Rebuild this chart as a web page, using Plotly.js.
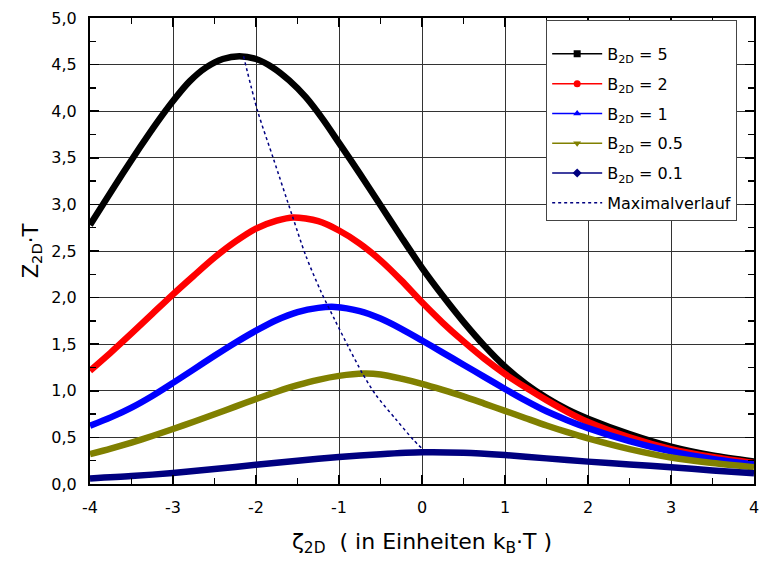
<!DOCTYPE html>
<html>
<head>
<meta charset="utf-8">
<script src="https://cdn.plot.ly/plotly-3.0.1.min.js"></script>
<style>html,body{margin:0;padding:0;background:#fff;}#chart{width:759px;height:562px;}</style>
</head>
<body>
<div id="chart"></div>
<script>
// ---- data ----
const x_B5 = [-4, -3.8, -3.6, -3.4, -3.2, -3, -2.8, -2.6, -2.4, -2.2, -2, -1.8, -1.6, -1.4, -1.2, -1, -0.75, -0.5, -0.25, 0, 0.25, 0.5, 0.75, 1, 1.25, 1.5, 1.75, 2, 2.5, 3, 3.5, 4];
const y_B5 = [2.78, 3.06, 3.34, 3.61, 3.87, 4.11, 4.32, 4.47, 4.56, 4.59, 4.56, 4.47, 4.33, 4.15, 3.92, 3.66, 3.33, 2.99, 2.65, 2.32, 2.02, 1.74, 1.485, 1.26, 1.075, 0.925, 0.80, 0.70, 0.535, 0.40, 0.305, 0.24];

const x_B2 = [-4, -3.75, -3.5, -3.25, -3, -2.75, -2.5, -2.25, -2, -1.75, -1.55, -1.25, -1, -0.75, -0.5, -0.25, 0, 0.25, 0.5, 0.75, 1, 1.25, 1.5, 1.75, 2, 2.5, 3, 3.5, 4];
const y_B2 = [1.215, 1.41, 1.615, 1.825, 2.035, 2.235, 2.43, 2.6, 2.74, 2.825, 2.86, 2.82, 2.72, 2.58, 2.40, 2.185, 1.95, 1.73, 1.53, 1.345, 1.18, 1.035, 0.90, 0.775, 0.665, 0.50, 0.375, 0.29, 0.225];

const x_B1 = [-4, -3.75, -3.5, -3.25, -3, -2.75, -2.5, -2.25, -2, -1.75, -1.5, -1.25, -1.05, -0.75, -0.5, -0.25, 0, 0.25, 0.5, 0.75, 1, 1.25, 1.5, 1.75, 2, 2.5, 3, 3.5, 4];
const y_B1 = [0.625, 0.715, 0.82, 0.945, 1.085, 1.23, 1.375, 1.515, 1.645, 1.76, 1.845, 1.89, 1.90, 1.855, 1.775, 1.665, 1.54, 1.41, 1.28, 1.15, 1.02, 0.895, 0.78, 0.685, 0.60, 0.46, 0.35, 0.27, 0.21];

const x_B05 = [-4, -3.75, -3.5, -3.25, -3, -2.75, -2.5, -2.25, -2, -1.75, -1.5, -1.25, -1, -0.7, -0.5, -0.25, 0, 0.25, 0.5, 0.75, 1, 1.25, 1.5, 1.75, 2, 2.5, 3, 3.5, 4];
const y_B05 = [0.32, 0.38, 0.445, 0.515, 0.59, 0.668, 0.748, 0.83, 0.912, 0.99, 1.06, 1.118, 1.16, 1.185, 1.175, 1.13, 1.075, 1.01, 0.94, 0.863, 0.785, 0.706, 0.628, 0.556, 0.49, 0.375, 0.285, 0.225, 0.18];

const x_B01 = [-4, -3.5, -3, -2.5, -2, -1.5, -1, -0.5, 0, 0.5, 1, 1.5, 2, 2.5, 3, 3.5, 4];
const y_B01 = [0.06, 0.085, 0.118, 0.16, 0.207, 0.25, 0.29, 0.32, 0.34, 0.335, 0.31, 0.275, 0.24, 0.21, 0.18, 0.145, 0.115];

const x_max = [-2.15, -1.98, -1.79, -1.56, -1.40, -1.22, -1.05, -0.88, -0.72, -0.56, -0.32, -0.10, 0.0];
const y_max = [4.59, 4.0, 3.49, 2.87, 2.45, 2.07, 1.76, 1.46, 1.19, 0.96, 0.70, 0.47, 0.38];

const seriesNames = ['B<sub>2D</sub> = 5', 'B<sub>2D</sub> = 2', 'B<sub>2D</sub> = 1', 'B<sub>2D</sub> = 0.5', 'B<sub>2D</sub> = 0.1', 'Maximalverlauf'];
const xTickVals = [-4, -3, -2, -1, 0, 1, 2, 3, 4];
const xTickText = ['-4', '-3', '-2', '-1', '0', '1', '2', '3', '4'];
const yTickVals = [0, 0.5, 1, 1.5, 2, 2.5, 3, 3.5, 4, 4.5, 5];
const yTickText = ['0,0', '0,5', '1,0', '1,5', '2,0', '2,5', '3,0', '3,5', '4,0', '4,5', '5,0'];

// ---- styles ----
const colors = ['#000000', '#ff0000', '#0000ff', '#808000', '#000080', '#000080'];
const symbols = ['square', 'circle', 'triangle-up', 'triangle-down', 'diamond'];
const xs = [x_B5, x_B2, x_B1, x_B05, x_B01];
const ys = [y_B5, y_B2, y_B1, y_B05, y_B01];

const traces = [];
for (let i = 0; i < 5; i++) {
  traces.push({
    x: xs[i], y: ys[i], type: 'scatter', mode: 'lines',
    line: {color: colors[i], width: 6.5, shape: 'spline', smoothing: 0.8},
    showlegend: false, hoverinfo: 'skip'
  });
}
traces.push({
  x: x_max, y: y_max, type: 'scatter', mode: 'lines',
  line: {color: colors[5], width: 1.5, dash: 'dot', shape: 'spline', smoothing: 0.8},
  showlegend: false, hoverinfo: 'skip'
});
// legend entries
for (let i = 0; i < 5; i++) {
  traces.push({
    x: [null], y: [null], type: 'scatter', mode: 'lines+markers', name: seriesNames[i],
    legendgroup: 'g' + i,
    line: {color: colors[i], width: 1.5},
    marker: {color: colors[i], symbol: symbols[i], size: 7}
  });
}
traces.push({
  x: [null], y: [null], type: 'scatter', mode: 'lines', name: seriesNames[5],
  legendgroup: 'g5',
  line: {color: colors[5], width: 1.5, dash: 'dot'}
});

const fam = 'DejaVu Sans, Arial, sans-serif';
const font = {family: fam, size: 16, color: '#000'};

const layout = {
  width: 759, height: 562,
  margin: {l: 90, r: 5, t: 18, b: 78},
  paper_bgcolor: '#fff', plot_bgcolor: '#fff',
  font: font,
  showlegend: true,
  legend: {
    x: 0.687, y: 0.995, xanchor: 'left', yanchor: 'top',
    bgcolor: '#fff', bordercolor: '#444', borderwidth: 1,
    font: {family: fam, size: 16, color: '#000'},
    title: {text: '&nbsp;', font: {family: fam, size: 12, color: '#000'}},
    traceorder: 'grouped', tracegroupgap: 6, itemwidth: 50
  },
  xaxis: {
    range: [-4, 4], autorange: false,
    tickmode: 'array', tickvals: xTickVals, ticktext: xTickText,
    ticks: 'inside', ticklen: 9, tickwidth: 1.5, tickcolor: '#000',
    minor: {dtick: 0.5, ticks: 'inside', ticklen: 6, tickwidth: 1.5, tickcolor: '#000', showgrid: false},
    showline: true, linewidth: 2, linecolor: '#000', mirror: 'allticks',
    showgrid: true, gridcolor: '#333', gridwidth: 1,
    zeroline: false,
    ticklabelstandoff: 8,
    ticklabeloverflow: 'allow',
    tickfont: font,
    title: {text: 'ζ<sub>2D</sub>  ( in Einheiten k<sub>B</sub>·T )', font: {family: fam, size: 22, color: '#000'}, standoff: 17}
  },
  yaxis: {
    range: [0, 5], autorange: false,
    tickmode: 'array', tickvals: yTickVals, ticktext: yTickText,
    ticks: 'inside', ticklen: 9, tickwidth: 1.5, tickcolor: '#000',
    minor: {dtick: 0.25, ticks: 'inside', ticklen: 6, tickwidth: 1.5, tickcolor: '#000', showgrid: false},
    showline: true, linewidth: 2, linecolor: '#000', mirror: 'allticks',
    showgrid: true, gridcolor: '#333', gridwidth: 1,
    zeroline: false,
    ticklabelstandoff: 8,
    ticklabeloverflow: 'allow',
    tickfont: font,
    title: {text: 'Z<sub>2D</sub>·T', font: {family: fam, size: 21, color: '#000'}, standoff: 7}
  }
};

Plotly.newPlot('chart', traces, layout, {staticPlot: true, displayModeBar: false});
</script>
</body>
</html>
